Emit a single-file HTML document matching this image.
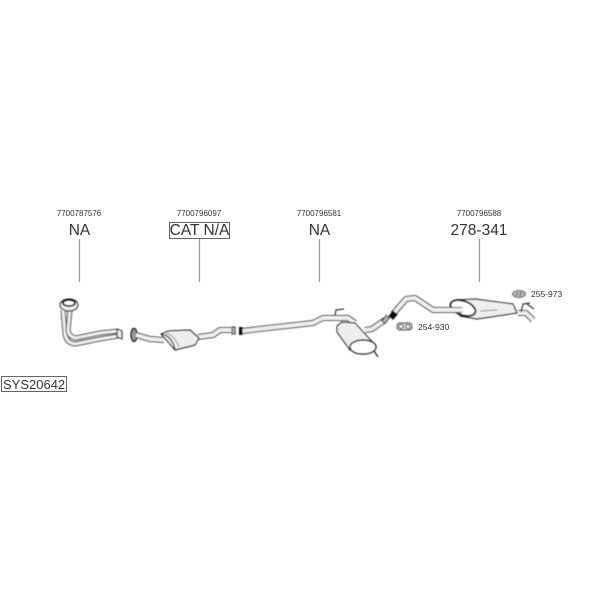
<!DOCTYPE html>
<html><head><meta charset="utf-8"><style>
html,body{margin:0;padding:0;background:#fff}
svg{display:block}
text{font-family:"Liberation Sans",sans-serif;fill:#333}
.o{fill:none;stroke:#444;stroke-linejoin:round;stroke-linecap:butt}
.i{fill:none;stroke:#eee;stroke-linejoin:round;stroke-linecap:butt}
.b{fill:#eee;stroke:#333;stroke-width:1.200;stroke-linejoin:round}
</style></head><body>
<svg width="600" height="600" viewBox="0 0 600 600" xmlns="http://www.w3.org/2000/svg">
<defs><filter id="s" x="-5%" y="-5%" width="110%" height="110%"><feGaussianBlur stdDeviation="0.400"/></filter></defs>
<rect width="600" height="600" fill="#fff"/>
<g text-anchor="middle" font-size="8">
<text x="79" y="216">7700787576</text><text x="199" y="216">7700796097</text><text x="319" y="216">7700796581</text><text x="479" y="216">7700796588</text>
</g>
<g text-anchor="middle" font-size="15.500">
<text x="79.500" y="235">NA</text><text x="199.500" y="235">CAT N/A</text><text x="319.500" y="235">NA</text><text x="479" y="235">278-341</text>
</g>
<rect x="169.500" y="222.500" width="60" height="16" fill="none" stroke="#666"/>
<g stroke="#999" stroke-width="1.200"><path d="M79.500 239V282M199.500 239V282M319.500 239V282M479.500 239V282"/></g>
<rect x="1.500" y="376.500" width="65" height="15" fill="none" stroke="#666"/>
<text x="3" y="389" font-size="13">SYS20642</text>
<text x="531" y="297" font-size="8.500">255-973</text>
<text x="418" y="330" font-size="8.500">254-930</text>

<g filter="url(#s)">
<!-- front pipes -->
<path class="o" stroke-width="5" d="M63 310L65 333Q66 343 75 344L100 339L118 336"/>
<path class="i" stroke-width="3" d="M63 310L65 333Q66 343 75 344L100 339L118 336"/>
<path class="o" stroke-width="5" d="M70 310L68 330Q69 337 76 338L100 333L118 331"/>
<path class="i" stroke-width="3" d="M70 310L68 330Q69 337 76 338L100 333L118 331"/>
<ellipse class="b" cx="69" cy="305" rx="9" ry="6"/>
<ellipse cx="69" cy="303" rx="6" ry="3" fill="#fff" stroke="#111" stroke-width="1.800"/>
<path class="b" d="M117 329L122 331L122 339L117 337Z"/>
<ellipse cx="134" cy="335" rx="3" ry="6.500" fill="#999" stroke="#222" stroke-width="1.400"/>
<!-- cat -->
<path class="o" stroke-width="6" d="M136 335L150 339L164 340"/>
<path class="i" stroke-width="4" d="M136 335L150 339L164 340"/>
<path class="o" stroke-width="6" d="M198 337L213 335L220 330L231 330"/>
<path class="i" stroke-width="4" d="M198 337L213 335L220 330L231 330"/>
<path class="b" d="M161 334L168 331L190 330L199 338L195 345L175 350Z"/>
<path d="M161 334Q171 335 175 349" fill="none" stroke="#333" stroke-width="1.200"/>
<path d="M166 333Q175 336 179 347" fill="none" stroke="#999"/>
<rect x="232" y="327" width="3" height="7" fill="#bbb" stroke="#222"/>
<!-- mid pipe -->
<path class="o" stroke-width="6" d="M242 331L268 328L313 323L323 318L348 318L355 323"/>
<path class="i" stroke-width="4" d="M242 331L268 328L313 323L323 318L348 318L355 323"/>
<rect x="239" y="327" width="3.500" height="8" fill="#111"/>
<path d="M335 315L336 310L344 309" fill="none" stroke="#333" stroke-width="1.200"/>
<path class="o" stroke-width="6" d="M365 330L372 329L385 320"/>
<path class="i" stroke-width="4" d="M365 330L372 329L385 320"/>
<path class="b" d="M337 326L342 322L355 323L376 346L350 350L337 332Z"/>
<ellipse cx="363" cy="347" rx="13" ry="7" fill="#fff" stroke="#222" stroke-width="1.400"/>
<path d="M374 351L378 357" fill="none" stroke="#222" stroke-width="1.200"/>
<rect x="384" y="316" width="4" height="7" fill="#bbb" stroke="#333" transform="rotate(40 386 319)"/>
<!-- rear pipe -->
<path class="o" stroke-width="6" d="M393 314L406 299L415 298L433 310L462 310"/>
<path class="i" stroke-width="4" d="M393 314L406 299L415 298L433 310L462 310"/>
<rect x="390" y="311" width="6" height="7" fill="#111" transform="rotate(40 392 315)"/>
<!-- rear box -->
<path class="b" d="M458 300L475 299L513 304L517 313L477 319L460 316Z"/>
<path d="M480 311L497 310" stroke="#888" fill="none"/>
<ellipse cx="463" cy="308" rx="13" ry="7" fill="#fff" stroke="#111" stroke-width="1.800" transform="rotate(20 463 308)"/>
<path class="o" stroke-width="6" d="M433 310L462 310"/><path class="i" stroke-width="4" d="M433 310L464 310"/>
<path class="o" stroke-width="6" d="M518 313L526 313L533 320"/>
<path class="i" stroke-width="4" d="M518 313L526 313L533 320"/>
<path d="M521 312L523 304L530 303M527 304L534 309" fill="none" stroke="#333" stroke-width="1.200"/>
<!-- clamps -->
<ellipse cx="519" cy="294" rx="6.500" ry="3.500" fill="#bbb" stroke="#666"/>
<path d="M516 296L518 292M520 296L521 292" stroke="#555" fill="none"/>
<rect x="397" y="323" width="15" height="7" rx="3" fill="#ccc" stroke="#444"/>
<ellipse cx="401" cy="326.500" rx="2" ry="2" fill="#fff" stroke="#444"/><ellipse cx="408" cy="326.500" rx="2" ry="2" fill="#fff" stroke="#444"/>
</g>
</svg>
</body></html>
